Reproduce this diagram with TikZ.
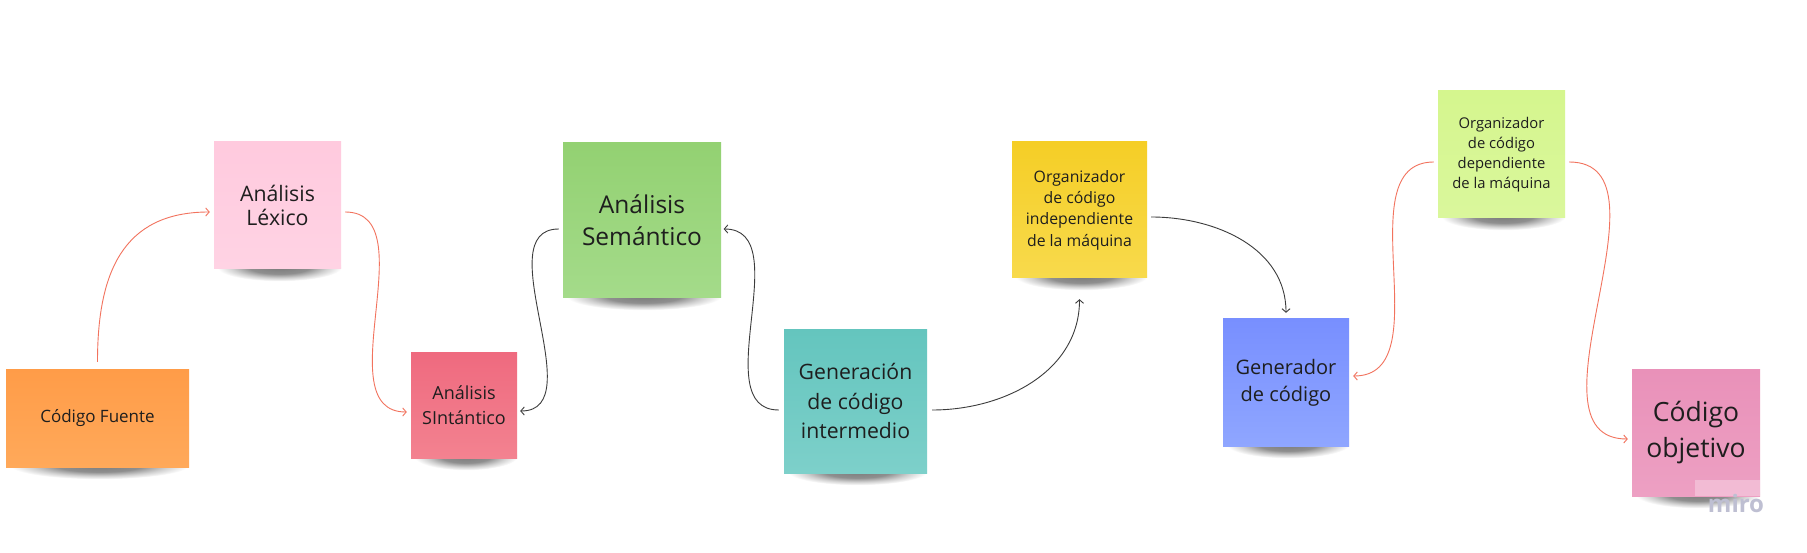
\documentclass[tikz,border=0pt]{standalone}
\usepackage{fontspec}
\setmainfont{Open Sans}
\usetikzlibrary{arrows.meta,calc}
\pgfdeclarelayer{bg}
\pgfsetlayers{bg,main}
\pgfdeclareradialshading{noteshadow}{\pgfpoint{0bp}{0bp}}{color(0bp)=(black!52); color(12bp)=(black!44); color(19bp)=(black!18); color(25bp)=(white); color(50bp)=(white)}
\definecolor{txt}{HTML}{1E1E1E}
\definecolor{redl}{HTML}{F2735E}
\definecolor{blkl}{HTML}{3C3C3C}
\definecolor{fuenteA}{HTML}{FF9C48}\definecolor{fuenteB}{HTML}{FFA95A}
\definecolor{lexA}{HTML}{FFCADE}\definecolor{lexB}{HTML}{FFD3E4}
\definecolor{sintA}{HTML}{EF6A7F}\definecolor{sintB}{HTML}{F38290}
\definecolor{semA}{HTML}{93D172}\definecolor{semB}{HTML}{A4DB8A}
\definecolor{genA}{HTML}{64C5BE}\definecolor{genB}{HTML}{7DD0CA}
\definecolor{orgiA}{HTML}{F5CE26}\definecolor{orgiB}{HTML}{F8DA4C}
\definecolor{gcodA}{HTML}{788FFF}\definecolor{gcodB}{HTML}{8FA6FF}
\definecolor{orgdA}{HTML}{D5F68E}\definecolor{orgdB}{HTML}{DAF79C}
\definecolor{objA}{HTML}{E991B9}\definecolor{objB}{HTML}{EDA0C3}
\definecolor{mirotxt}{HTML}{BEBFD2}
\begin{document}
\begin{tikzpicture}[x=1pt,y=-1pt,
  note/.style={inner sep=0pt, align=center, text=txt, shading angle=0},
  link/.style={line width=0.9pt, -{Straight Barb[length=3.5pt,width=8pt]}},
  redlink/.style={link, draw=redl},
  blklink/.style={link, draw=blkl}
]
\begin{pgfonlayer}{bg}
\fill[white] (0,0) rectangle (1807,553);
\end{pgfonlayer}
\useasboundingbox (0,0) rectangle (1807,553);

% notes
\node[note, minimum width=183pt, minimum height=98pt, top color=fuenteA, bottom color=fuenteB,
  font=\fontsize{17}{23}\selectfont] (fuente) at (97.5,418) {Código Fuente};
\node[note, minimum width=127pt, minimum height=127pt, top color=lexA, bottom color=lexB,
  font=\fontsize{21.3}{24.5}\selectfont] (lex) at (277.5,205.5) {Análisis\\Léxico};
\node[note, minimum width=106pt, minimum height=106pt, top color=sintA, bottom color=sintB,
  font=\fontsize{18}{25}\selectfont] (sint) at (464,405) {Análisis\\SIntántico};
\node[note, minimum width=158pt, minimum height=155pt, top color=semA, bottom color=semB,
  font=\fontsize{24.5}{31.7}\selectfont] (sem) at (642,220.5) {Análisis\\Semántico};
\node[note, minimum width=143pt, minimum height=144pt, top color=genA, bottom color=genB,
  font=\fontsize{21.2}{29.2}\selectfont] (gen) at (855.5,401) {Generación\\de código\\intermedio};
\node[note, minimum width=135pt, minimum height=136pt, top color=orgiA, bottom color=orgiB,
  font=\fontsize{15.8}{21.3}\selectfont] (orgi) at (1079.5,210) {Organizador\\de código\\independiente\\de la máquina};
\node[note, minimum width=126pt, minimum height=127pt, top color=gcodA, bottom color=gcodB,
  font=\fontsize{20}{26.7}\selectfont] (gcod) at (1286,382.5) {Generador\\de código};
\node[note, minimum width=127pt, minimum height=127pt, top color=orgdA, bottom color=orgdB,
  font=\fontsize{14.8}{20}\selectfont] (orgd) at (1501.5,154.5) {Organizador\\de código\\dependiente\\de la máquina};
\node[note, minimum width=128pt, minimum height=127pt, top color=objA, bottom color=objB,
  font=\fontsize{26.5}{36.7}\selectfont] (obj) at (1696,432.5) {Código\\objetivo};

% shadows
\begin{pgfonlayer}{bg}
\foreach \n/\w in {fuente/183,lex/127,sint/106,sem/158,gen/143,orgi/135,gcod/126,orgd/127,obj/128}{
  \pgfmathsetmacro{\rx}{0.49*\w}
  \shade[shading=noteshadow] ($(\n.south)+(2,-2)$) ellipse [x radius=\rx pt, y radius=14pt];
}
\end{pgfonlayer}

% watermark
\fill[white, opacity=0.3] (1695,480) rectangle (1760,496);
\node[inner sep=0pt, text=mirotxt, font=\fontsize{24}{24}\bfseries\selectfont] (miro) at (1736,503) {miro};

% connector end points
\coordinate (a1s) at ($(fuente.north)+(0,-7)$);
\coordinate (a1e) at ($(lex.west)+(-4,6.5)$);
\coordinate (a2s) at ($(lex.east)+(4,6.5)$);
\coordinate (a2e) at ($(sint.west)+(-4,7)$);
\coordinate (a3s) at ($(sem.west)+(-4,8.5)$);
\coordinate (a3e) at ($(sint.east)+(3,6)$);
\coordinate (a4s) at ($(gen.west)+(-5,9)$);
\coordinate (a4e) at ($(sem.east)+(2.5,8.5)$);
\coordinate (a5s) at ($(gen.east)+(5,9)$);
\coordinate (a5e) at ($(orgi.south)+(0,21)$);
\coordinate (a6s) at ($(orgi.east)+(4,7)$);
\coordinate (a6e) at ($(gcod.north)+(0,-6)$);
\coordinate (a7s) at ($(orgd.west)+(-4,7.5)$);
\coordinate (a7e) at ($(gcod.east)+(4,-6.5)$);
\coordinate (a8s) at ($(orgd.east)+(4,7.5)$);
\coordinate (a8e) at ($(obj.west)+(-4,6.5)$);

% connectors
\draw[redlink] (a1s) to[out=90, in=180, looseness=1.2] (a1e);
\draw[redlink] (a2s) to[out=0, in=180] (a2e);
\draw[blklink] (a3s) to[out=180, in=0] (a3e);
\draw[blklink] (a4s) to[out=180, in=0] (a4e);
\draw[blklink] (a5s) to[out=0, in=-90] (a5e);
\draw[blklink] (a6s) to[out=0, in=90] (a6e);
\draw[redlink] (a7s) to[out=180, in=0] (a7e);
\draw[redlink] (a8s) to[out=0, in=180] (a8e);
\end{tikzpicture}
\end{document}
